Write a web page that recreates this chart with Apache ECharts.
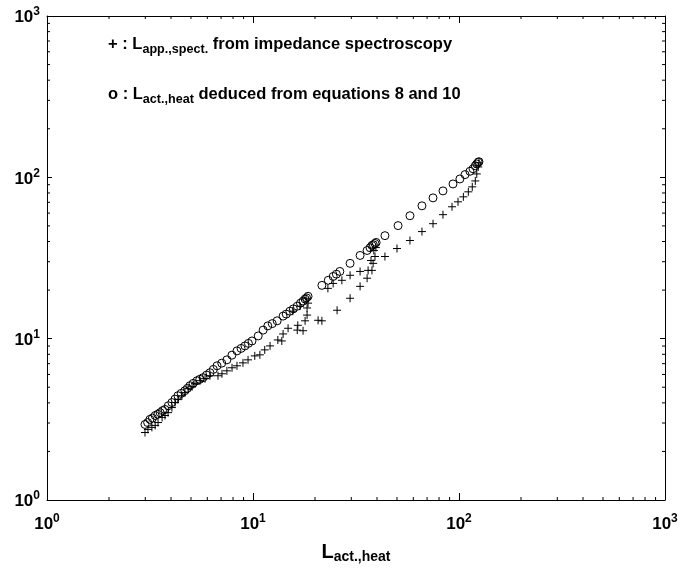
<!DOCTYPE html>
<html>
<head>
<meta charset="utf-8">
<script src="https://cdn.jsdelivr.net/npm/echarts@6/dist/echarts.min.js"></script>
<style>
html, body { margin: 0; padding: 0; background: #fff; }
#chart { width: 697px; height: 569px; }
</style>
</head>
<body>
<div id="chart"></div>
<script>
// L_app.,spect. from impedance spectroscopy (plotted as "+")
const spectX = [2.99, 3.09, 3.23, 3.35, 3.46, 3.62, 3.74, 3.87, 4.04, 4.18, 4.32, 4.52, 4.67, 4.84, 5.06, 5.23, 5.53, 5.85, 6.18,
  6.76, 7.07, 7.47, 7.91, 8.36, 8.94, 9.46, 10.2, 10.8, 11.4, 12.1, 13.2, 13.8, 14.0, 14.8, 16.4, 16.5, 17.5, 17.9, 18.3, 18.3, 18.5, 18.1, 15.6, 16.9,
  20.7, 21.6, 25.6, 29.6, 33.1, 35.8, 37.8, 23.1, 24.5, 27.0, 29.6, 33.1, 36.2, 38.3, 37.4, 39.1, 38.6, 39.5,
  43.7, 50.0, 57.8, 66.1, 74.8, 83.6, 92.5, 98.9, 105, 111, 116, 120, 122, 124, 125];
const spectY = [2.62, 2.74, 2.82, 2.90, 3.02, 3.25, 3.34, 3.48, 3.74, 4.02, 4.19, 4.43, 4.63, 4.90, 5.04, 5.26, 5.49, 5.65, 5.89,
  5.89, 6.06, 6.32, 6.60, 6.79, 7.08, 7.39, 7.82, 7.94, 8.52, 9.02, 9.82, 9.68, 10.7, 11.6, 11.3, 12.1, 11.2, 12.9, 14.0, 15.5, 16.6, 17.8, 14.8, 15.9,
  13.0, 12.9, 15.0, 17.8, 21.1, 23.7, 26.5, 20.5, 22.0, 23.0, 24.7, 26.1, 26.5, 29.3, 30.5, 32.3, 35.2, 36.7,
  32.3, 36.2, 40.6, 46.1, 51.6, 58.7, 65.7, 70.5, 75.7, 81.3, 87.3, 95.0, 105, 116, 123];

// L_act.,heat deduced from equations 8 and 10 (plotted as "o")
const heatX = [2.99, 3.08, 3.16, 3.25, 3.35, 3.45, 3.54, 3.64, 3.74, 3.88, 4.04, 4.18, 4.32, 4.48, 4.67, 4.80, 4.94, 5.12, 5.35, 5.52,
  5.72, 5.95, 6.18, 6.42, 6.69, 7.05, 7.47, 7.90, 8.36, 8.75, 9.14, 9.50, 9.89, 10.6, 11.2, 11.8, 12.4, 13.1, 14.0, 14.5,
  15.1, 15.7, 16.4, 17.0, 17.5, 17.9, 18.2, 18.5, 21.6, 23.2, 24.5, 25.4, 26.4, 29.6, 33.1, 35.8, 37.0, 37.8, 38.4, 39.1,
  39.6, 43.7, 50.6, 57.8, 66.1, 74.8, 83.6, 93.5, 101, 107, 113, 117, 120, 122, 124, 125];
const heatY = [2.94, 3.02, 3.16, 3.22, 3.34, 3.40, 3.48, 3.58, 3.64, 3.84, 4.02, 4.22, 4.43, 4.58, 4.76, 4.92, 5.11, 5.28, 5.49, 5.60,
  5.73, 5.95, 6.15, 6.45, 6.79, 7.05, 7.39, 7.90, 8.40, 8.70, 9.02, 9.35, 9.68, 10.4, 11.3, 12.0, 12.4, 12.9, 13.8, 14.2,
  14.8, 15.3, 15.9, 16.6, 17.1, 17.6, 17.9, 18.3, 21.4, 23.0, 24.3, 25.1, 26.1, 29.3, 32.8, 35.2, 36.6, 37.8, 38.2, 38.9,
  39.5, 43.5, 50.2, 57.8, 66.6, 74.6, 82.4, 91.0, 97.7, 104, 109, 113, 118, 121, 124, 125];

// Axis range and minor (2..9 per decade) tick values
const axisMin = 1;
const axisMax = 1000;
const minorTicks = [2, 3, 4, 5, 6, 7, 8, 9, 20, 30, 40, 50, 60, 70, 80, 90, 200, 300, 400, 500, 600, 700, 800, 900];

const FONT = '"Liberation Sans", Arial, Helvetica, sans-serif';

const zip = (xs, ys) => xs.map((x, i) => [x, ys[i]]);

const powRich = {
  b: { fontFamily: FONT, fontWeight: 'bold', fontSize: 17, color: '#000', lineHeight: 20, verticalAlign: 'bottom' },
  s: { fontFamily: FONT, fontWeight: 'bold', fontSize: 12, color: '#000', lineHeight: 10, verticalAlign: 'top' }
};
const powLabel = v => '{b|10}{s|' + Math.round(Math.log10(v)) + '}';

function logAxis(extra) {
  return Object.assign({
    type: 'log',
    logBase: 10,
    min: axisMin,
    max: axisMax,
    axisLine: { show: true, lineStyle: { color: '#000', width: 1 } },
    axisTick: { show: true, inside: true, length: 5, lineStyle: { color: '#000', width: 1 } },
    splitLine: { show: false },
    minorTick: { show: false }
  }, extra);
}

const legendRich = {
  m: { fontFamily: FONT, fontWeight: 'bold', fontSize: 16.5, fill: '#000', lineHeight: 20, verticalAlign: 'top' },
  sub: { fontFamily: FONT, fontWeight: 'bold', fontSize: 12.6, fill: '#000', lineHeight: 12, verticalAlign: 'bottom' }
};

const chart = echarts.init(document.getElementById('chart'), null, { renderer: 'canvas' });

chart.setOption({
  animation: false,
  backgroundColor: '#fff',
  grid: { left: 47, right: 32, top: 16, bottom: 66, containLabel: false },
  xAxis: [
    logAxis({
      position: 'bottom',
      axisTick: { show: true, inside: true, length: 7, lineStyle: { color: '#000', width: 1 } },
      axisLabel: { show: true, margin: 13, formatter: powLabel, rich: powRich, showMinLabel: true, showMaxLabel: true },
      name: '{L|L}{sub|act.,heat}',
      nameLocation: 'middle',
      nameGap: 42,
      nameTextStyle: {
        rich: {
          L: { fontFamily: FONT, fontWeight: 'bold', fontSize: 20, color: '#000', lineHeight: 22, verticalAlign: 'top' },
          sub: { fontFamily: FONT, fontWeight: 'bold', fontSize: 14, color: '#000', lineHeight: 13, verticalAlign: 'bottom' }
        }
      }
    }),
    logAxis({
      position: 'top',
      axisTick: { show: true, inside: true, length: 7, lineStyle: { color: '#000', width: 1 } },
      axisLabel: { show: false }
    })
  ],
  yAxis: [
    logAxis({
      position: 'left',
      axisLabel: { show: true, margin: 7, formatter: powLabel, rich: powRich, showMinLabel: true, showMaxLabel: true }
    }),
    logAxis({ position: 'right', axisLabel: { show: false } })
  ],
  graphic: [
    {
      type: 'text',
      left: 108,
      top: 36,
      style: { text: '{m|+ : L}{sub|app.,spect.}{m| from impedance spectroscopy}', rich: legendRich }
    },
    {
      type: 'text',
      left: 108,
      top: 86,
      style: { text: '{m|o : L}{sub|act.,heat}{m| deduced from equations 8 and 10}', rich: legendRich }
    }
  ],
  series: [
    {
      // minor ticks on all four frame edges
      type: 'custom',
      silent: true,
      xAxisIndex: 0,
      yAxisIndex: 0,
      data: minorTicks.map(v => [v, v]),
      renderItem: function (params, api) {
        const v = api.value(0);
        const p = api.coord([v, v]);
        const bl = api.coord([axisMin, axisMin]);
        const tr = api.coord([axisMax, axisMax]);
        const len = 3;
        const st = { stroke: '#000', lineWidth: 1 };
        const line = (x1, y1, x2, y2) => ({ type: 'line', shape: { x1, y1, x2, y2 }, style: st });
        return {
          type: 'group',
          children: [
            line(p[0], bl[1], p[0], bl[1] - len),
            line(p[0], tr[1], p[0], tr[1] + len),
            line(bl[0], p[1], bl[0] + len, p[1]),
            line(tr[0], p[1], tr[0] - len, p[1])
          ]
        };
      }
    },
    {
      name: 'spect',
      type: 'scatter',
      data: zip(spectX, spectY),
      symbol: 'path://M5,0L5,10M0,5L10,5',
      symbolSize: 8,
      itemStyle: { color: 'none', borderColor: '#000', borderWidth: 1, opacity: 1 },
      emphasis: { disabled: true }
    },
    {
      name: 'heat',
      type: 'scatter',
      data: zip(heatX, heatY),
      symbol: 'circle',
      symbolSize: 8,
      itemStyle: { color: 'rgba(0,0,0,0)', borderColor: '#000', borderWidth: 1, opacity: 1 },
      emphasis: { disabled: true }
    }
  ]
});
</script>
</body>
</html>
